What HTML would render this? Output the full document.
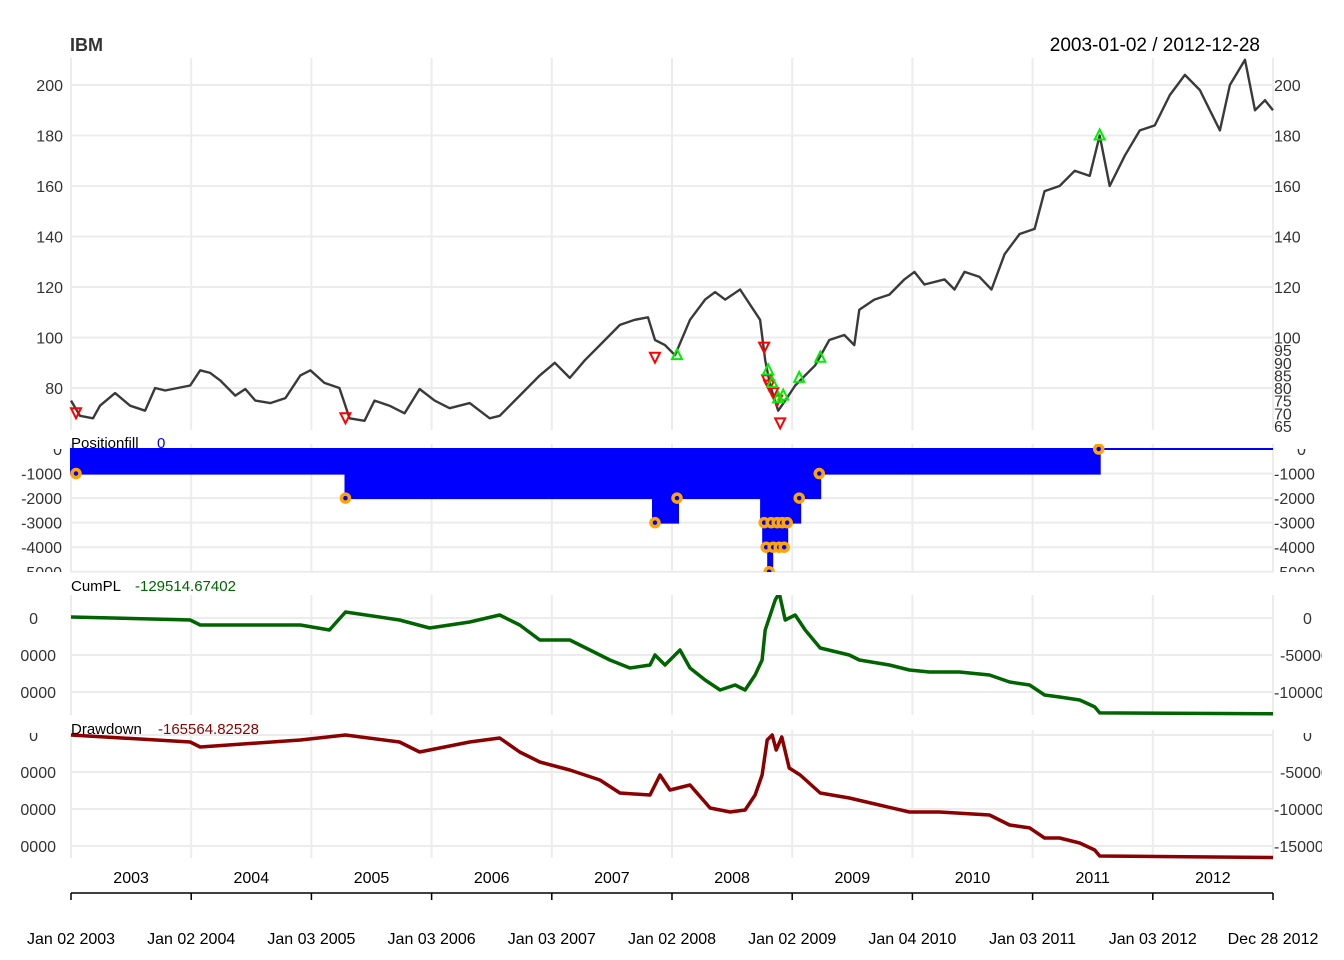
<!DOCTYPE html>
<html><head><meta charset="utf-8"><style>
html,body{margin:0;padding:0;background:#fff;}
svg{display:block;font-family:"Liberation Sans",sans-serif;}
</style></head><body>
<svg id="c" width="1344" height="960" xmlns="http://www.w3.org/2000/svg"></svg>
<script>
// ---- data (months since Jan 2003) ----
const priceMonths=[0,0.9,2.2,2.9,4.4,5.9,7.4,8.4,9.4,11.9,12.9,13.9,14.9,16.4,17.4,18.4,19.9,21.4,22.9,23.9,25.3,26.8,27.3,27.8,29.3,30.3,31.8,33.3,34.8,36.3,37.8,39.8,41.8,42.8,44.8,46.8,48.3,49.8,51.3,52.8,54.8,56.3,57.6,58.3,59.3,60.3,61.8,63.3,64.3,65.3,66.8,67.8,68.8,69.3,69.8,70.6,71.3,72.3,73.3,74.3,75.7,77.2,78.2,78.7,80.2,81.7,83.2,84.2,85.2,87.2,88.2,89.2,90.7,91.9,93.2,94.7,96.2,97.2,98.7,100.2,101.7,102.7,103.7,105.2,106.7,108.2,109.7,111.2,112.7,113.7,114.7,115.7,117.2,118.2,119.2,120];
const priceValues=[75,69,68,73,78,73,71,80,79,81,87,86,83,77,79.6,75,74,76,85,87,82,80,74,68,67,75,73,70,79.6,75,72,74,68,69,77,85,90,84,91,97,105,107,108,99,97,93,107,115,118,115,119,113,107,91,81,71,75,81,85,89,99,101,97,111,115,117,123,126,121,123,119,126,124,119,133,141,143,158,160,166,164,180,160,172,182,184,196,204,198,190,182,200,210,190,194,190];
const sellMonths=[0.5,27.4,58.3,69.2,69.5,69.7,70.1,70.5,70.8];
const sellPrices=[70,68,92,96,83,81,78,75,66];
const buyMonths=[60.5,69.6,70.0,70.6,71.1,72.7,74.8,102.7];
const buyPrices=[93,87,82,76,77,84,92,180];
const posMonths=[0,27.4,58.1,60.6,68.9,69.1,69.6,70.0,71.5,72.8,74.8,102.7,120];
const posValues=[-1000,-2000,-3000,-2000,-3000,-4000,-5000,-4000,-3000,-2000,-1000,0,0];
const fillMonths=[0.5,27.4,58.3,60.5,69.2,69.9,70.5,71.0,71.5,69.4,70.1,70.7,71.2,69.7,72.7,74.7,102.6];
const fillQty=[-1000,-2000,-3000,-2000,-3000,-3000,-3000,-3000,-3000,-4000,-4000,-4000,-4000,-5000,-2000,-1000,0];
const cumMonths=[0,11.9,12.9,22.9,25.8,27.4,32.8,35.8,39.8,42.8,44.8,46.8,49.8,51.8,53.8,55.8,57.8,58.3,59.3,60.8,61.8,63.3,64.8,66.3,67.3,68.3,69.0,69.3,69.8,70.3,70.7,71.3,72.3,73.3,74.8,77.7,78.7,81.7,83.7,85.7,88.7,91.7,93.7,95.7,97.2,98.7,100.7,102.2,102.7,120];
const cumValues=[1400,-2700,-9500,-9500,-16200,8100,-2700,-13500,-5400,4000,-9500,-29700,-29700,-43200,-56700,-67500,-63500,-50000,-63500,-43200,-67500,-83800,-97300,-90500,-97300,-77000,-56700,-16200,4000,24300,33800,-2700,4000,-16200,-40500,-50000,-56700,-63500,-70300,-73000,-73000,-77000,-86500,-90500,-104000,-106700,-110800,-120200,-128300,-129500];
const ddMonths=[0,11.9,12.9,22.9,27.4,32.8,34.8,39.8,42.8,44.8,46.8,49.8,52.8,54.8,57.8,58.8,59.8,61.8,63.8,65.8,67.3,68.3,69.0,69.5,70.0,70.4,70.96,71.7,72.8,74.8,77.7,80.7,83.7,86.7,91.7,93.7,95.7,97.2,98.7,100.7,102.2,102.7,120];
const ddValues=[0,-9500,-16200,-6800,0,-9500,-23000,-9500,-4000,-23000,-36500,-47300,-60800,-78400,-81100,-54000,-74300,-67500,-98600,-104000,-101300,-81100,-54000,-6800,0,-20300,-2700,-44600,-54000,-78400,-85100,-94600,-104000,-104000,-108100,-121600,-125600,-139200,-139200,-145900,-155400,-163500,-165600];
const yearLabels=["2003","2004","2005","2006","2007","2008","2009","2010","2011","2012"];
const dateLabels=["Jan 02 2003","Jan 02 2004","Jan 03 2005","Jan 03 2006","Jan 03 2007","Jan 02 2008","Jan 02 2009","Jan 04 2010","Jan 03 2011","Jan 03 2012","Dec 28 2012"];
const gridMonths=[0,12,24,36,48,60,72,84,96,108,120];
const priceTicksL=[200,180,160,140,120,100,80];
const priceTicksR=[200,180,160,140,120,100,95,90,85,80,75,70,65];
const posTicks=[0,-1000,-2000,-3000,-4000,-5000];
const cumTicks=[0,-50000,-100000];
const ddTicks=[0,-50000,-100000,-150000];

// ---- scales ----
const X0=71,X1=1273;
const x=m=>X0+m*(X1-X0)/120;
const yP=p=>388-(p-80)*2.525;
const yPos=v=>449-v*0.02455;
const yCum=v=>618-v*37/50000;
const yDd=v=>735-v*37/50000;

const svg=document.getElementById('c');
const NS="http://www.w3.org/2000/svg";
function mk(tag,attrs,parent){const e=document.createElementNS(NS,tag);for(const k in attrs)e.setAttribute(k,attrs[k]);(parent||svg).appendChild(e);return e;}
function txt(s,xx,yy,anchor,size,fill,weight,parent){const t=mk('text',{x:xx,y:yy,'text-anchor':anchor,'font-size':size,fill:fill,'font-weight':weight||'normal'},parent);t.textContent=s;return t;}

// clip paths
const defs=mk('defs',{});
const cps=[['cpPos',0,444,1344,128],['cpPosLab',0,449,1344,123],['cpCum',21,595,1301,122],['cpDd',21,733,1301,127]];
cps.forEach(c=>{const cp=mk('clipPath',{id:c[0]},defs);mk('rect',{x:c[1],y:c[2],width:c[3],height:c[4]},cp);});

// panels: vertical grid
const panels=[[58,430],[444,572],[595,715],[730,858]];
const gridG=mk('g',{});


panels.forEach(p=>{gridMonths.forEach(m=>mk('line',{x1:x(m),x2:x(m),y1:p[0],y2:p[1],stroke:'#ececec','stroke-width':2},gridG));});
priceTicksL.forEach(v=>mk('line',{x1:X0,x2:X1,y1:yP(v),y2:yP(v),stroke:'#ececec','stroke-width':2},gridG));
posTicks.forEach(v=>mk('line',{x1:X0,x2:X1,y1:yPos(v),y2:yPos(v),stroke:'#ececec','stroke-width':2},gridG));
cumTicks.forEach(v=>mk('line',{x1:X0,x2:X1,y1:yCum(v),y2:yCum(v),stroke:'#ececec','stroke-width':2},gridG));
ddTicks.forEach(v=>mk('line',{x1:X0,x2:X1,y1:yDd(v),y2:yDd(v),stroke:'#ececec','stroke-width':2},gridG));

// titles
const t1=txt('IBM',70,51,'start',18,'#333','bold');


const t2=txt('2003-01-02 / 2012-12-28',1260,51,'end',19,'#000');



// price axes
priceTicksL.forEach(v=>{const t=txt(String(v),63,yP(v)+6,'end',16,'#333');});
priceTicksR.forEach(v=>{const t=txt(String(v),1274,yP(v)+6,'start',16,'#333');});

// price line
let d='';priceMonths.forEach((m,i)=>{d+=(i?'L':'M')+x(m).toFixed(1)+' '+yP(priceValues[i]).toFixed(1);});
const pl=mk('path',{d:d,fill:'none',stroke:'#3a3a3a','stroke-width':2.4,'stroke-linejoin':'round'});



// signals
sellMonths.forEach((m,i)=>{const cx=x(m),cy=yP(sellPrices[i]);
 const s=mk('polygon',{points:`${cx-5},${cy-5} ${cx+5},${cy-5} ${cx},${cy+5}`,fill:'none',stroke:'#ff0000','stroke-width':2});
 
 });
buyMonths.forEach((m,i)=>{const cx=x(m),cy=yP(buyPrices[i]);
 const s=mk('polygon',{points:`${cx-5},${cy+4} ${cx+5},${cy+4} ${cx},${cy-6}`,fill:'none',stroke:'#00ee00','stroke-width':2});
 
 });

// position panel
const pg=mk('g',{'clip-path':'url(#cpPos)'});


let pd='M'+x(posMonths[0])+' '+yPos(0);
posMonths.forEach((m,i)=>{if(i>0)pd+='L'+x(m).toFixed(1)+' '+yPos(posValues[i-1]).toFixed(1);pd+='L'+x(m).toFixed(1)+' '+yPos(posValues[i]).toFixed(1);});
pd+='L'+x(120)+' '+yPos(0)+'Z';
const pf=mk('path',{d:pd,fill:'#0000ff',stroke:'#0000ff','stroke-width':2},pg);


fillMonths.forEach((m,i)=>{const c=mk('circle',{cx:x(m),cy:yPos(fillQty[i]),r:4,fill:'#0000ff',stroke:'#ffa500','stroke-width':3.5},pg);
 
 });
const plg=mk('g',{'clip-path':'url(#cpPosLab)'});
posTicks.forEach(v=>{const t=txt(String(v),62,yPos(v)+6,'end',16,'#333',null,plg);
 const r=txt(String(v),v===0?1297:1274,yPos(v)+6,'start',16,'#333',null,plg);});
const pl1=txt('Positionfill',71,448,'start',15,'#000');


const pl2=txt('0',157,448,'start',15,'#0000ff');



// cumPL panel
const cg=mk('g',{'clip-path':'url(#cpCum)'});


let cd='';cumMonths.forEach((m,i)=>{cd+=(i?'L':'M')+x(m).toFixed(1)+' '+yCum(cumValues[i]).toFixed(1);});
const cl=mk('path',{d:cd,fill:'none',stroke:'#006400','stroke-width':3.5,'stroke-linejoin':'round'},cg);


cumTicks.forEach(v=>{const t=txt(String(v),v===0?38:56,yCum(v)+6,'end',16,'#333',null,cg);
 const r=txt(String(v),v===0?1303:(v===-50000?1280:1274),yCum(v)+6,'start',16,'#333',null,cg);});
const cl1=txt('CumPL',71,591,'start',15,'#000');


const cl2=txt('-129514.67402',135,591,'start',15,'#006400');



// drawdown panel
const dg=mk('g',{'clip-path':'url(#cpDd)'});


let dd='';ddMonths.forEach((m,i)=>{dd+=(i?'L':'M')+x(m).toFixed(1)+' '+yDd(ddValues[i]).toFixed(1);});
const dl=mk('path',{d:dd,fill:'none',stroke:'#8b0000','stroke-width':3.5,'stroke-linejoin':'round'},dg);


ddTicks.forEach(v=>{const t=txt(String(v),v===0?38:56,yDd(v)+6,'end',16,'#333',null,dg);
 const r=txt(String(v),v===0?1303:(v===-50000?1280:1274),yDd(v)+6,'start',16,'#333',null,dg);});
const dl1=txt('Drawdown',71,734,'start',15,'#000');


const dl2=txt('-165564.82528',158,734,'start',15,'#8b0000');



// x axis
const ax=mk('line',{x1:X0,x2:X1,y1:893,y2:893,stroke:'#000','stroke-width':1.5});


gridMonths.forEach((m,i)=>{mk('line',{x1:x(m),x2:x(m),y1:893,y2:900,stroke:'#000','stroke-width':1.5});
 const t=txt(dateLabels[i],x(m),944,'middle',16,'#000');});
yearLabels.forEach((y,i)=>{const t=txt(y,x(i*12+6),883,'middle',16,'#000');});
</script>
</body></html>
